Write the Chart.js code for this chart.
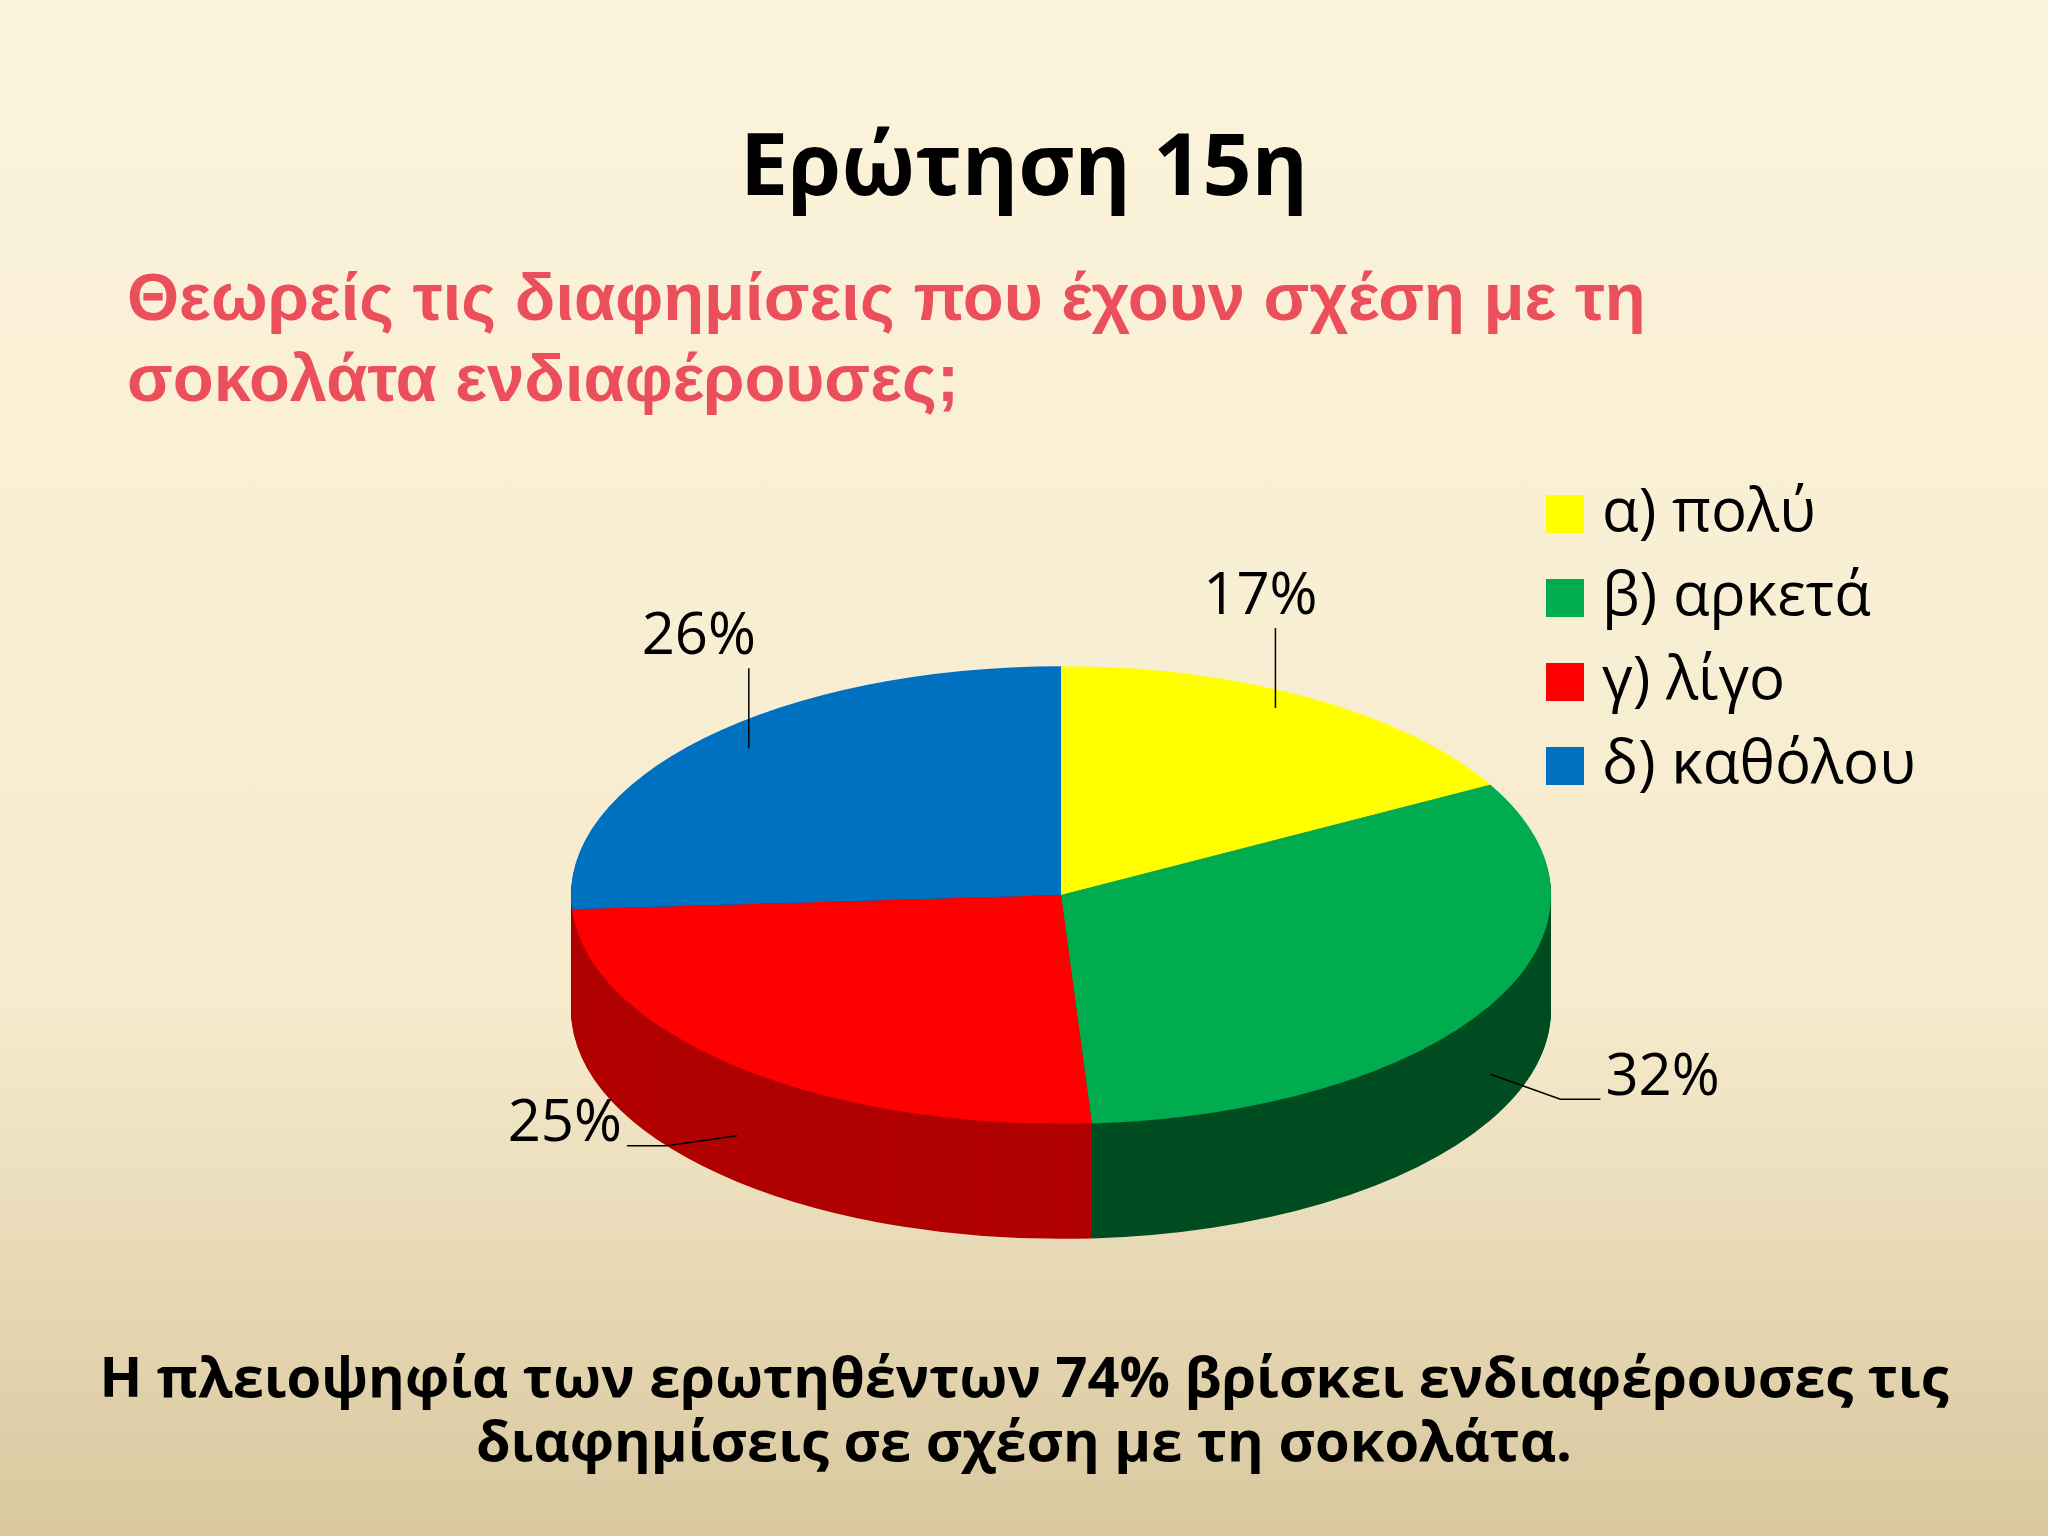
<!DOCTYPE html>
<html>
<head>
<meta charset="utf-8">
<script src="https://cdn.jsdelivr.net/npm/chart.js@4"></script>
<style>
  body { margin:0; width:2048px; height:1536px; overflow:hidden;
    background: linear-gradient(#fbf3dc 0%, #f6ebcd 65%, #d9c89f 100%);
    font-family: "Open Sans", "Liberation Sans", sans-serif; position:relative; }
  #title { position:absolute; top:103px; width:2048px; text-align:center; font-weight:bold; font-size:86px; color:#000; }
  #sub { position:absolute; left:127px; top:256px; font-family:"Liberation Sans", sans-serif; font-weight:bold; font-size:67px; line-height:81px; color:#ec4f5c; }
  #legend { position:absolute; left:1546px; top:466px; font-size:60px; line-height:84px; }
  #legend div span { display:inline-block; width:38px; height:38px; margin-right:18px; vertical-align:-2px; }
  #note { position:absolute; top:1343px; width:2048px; text-align:center; font-weight:bold; font-size:56px; line-height:64px; }
  canvas { position:absolute; left:0; top:0; }
</style>
</head>
<body>
<canvas id="chart-pie" width="2048" height="1536"></canvas>
<div id="title">Ερώτηση 15η</div>
<div id="sub">Θεωρείς τις διαφημίσεις που έχουν σχέση με τη<br>σοκολάτα ενδιαφέρουσες;</div>
<div id="legend"></div>
<div id="note">Η πλειοψηφία των ερωτηθέντων 74% βρίσκει ενδιαφέρουσες τις<br>διαφημίσεις σε σχέση με τη σοκολάτα.</div>
<script>
var labels = ["α) πολύ", "β) αρκετά", "γ) λίγο", "δ) καθόλου"];
var values = [17, 32, 25, 26];
var colors = ["#ffff00", "#00ac4e", "#ff0000", "#0070c0"];
var darkColors = ["#9a9a00", "#004d22", "#b00000", "#003a66"];

var SQUASH = 0.467, DEPTH = 115;

document.getElementById("legend").innerHTML = labels.map(function (l, i) {
    return '<div><span style="background:' + colors[i] + '"></span>' + l + '</div>';
}).join("");

var tiltPlugin = {
    id: "tilt",
    beforeDatasetsDraw: function (chart) {
        var ctx = chart.ctx, arcs = chart.getDatasetMeta(0).data;
        var cx = arcs[0].x, cy = arcs[0].y;
        for (var k = DEPTH; k >= 1; k -= 1) {
            ctx.save();
            ctx.translate(cx, cy + k);
            ctx.scale(1, SQUASH);
            ctx.translate(-cx, -cy);
            arcs.forEach(function (a, i) {
                var keep = a.options.backgroundColor;
                a.options.backgroundColor = darkColors[i];
                a.draw(ctx);
                a.options.backgroundColor = keep;
            });
            ctx.restore();
        }
        ctx.save();
        ctx.translate(cx, cy);
        ctx.scale(1, SQUASH);
        ctx.translate(-cx, -cy);
    },
    afterDatasetsDraw: function (chart) {
        var ctx = chart.ctx;
        ctx.restore();
        var arcs = chart.getDatasetMeta(0).data;
        ctx.save();
        ctx.strokeStyle = "#000";
        ctx.lineWidth = 1.5;
        ctx.fillStyle = "#000";
        ctx.font = '58px "Open Sans", sans-serif';
        arcs.forEach(function (a, i) {
            var mid = (a.startAngle + a.endAngle) / 2;
            var c = Math.cos(mid), s = Math.sin(mid);
            var x = a.x + a.outerRadius * c, y = a.y + a.outerRadius * SQUASH * s;
            var txt = values[i] + "%";
            ctx.beginPath();
            if (s < 0) {
                x += c > 0 ? -35 : 45;
                y += 10;
                ctx.moveTo(x, y); ctx.lineTo(x, y - 80); ctx.stroke();
                ctx.textAlign = "center"; ctx.textBaseline = "bottom";
                ctx.fillText(txt, x + (c > 0 ? -15 : -50), y - 82);
            } else {
                y += DEPTH * 0.6;
                var dir = c > 0 ? 1 : -1;
                var dy = dir > 0 ? 25 : 10;
                var ex = x + dir * 110;
                ctx.moveTo(x, y); ctx.lineTo(ex - dir * 40, y + dy); ctx.lineTo(ex, y + dy); ctx.stroke();
                ctx.textAlign = dir > 0 ? "left" : "right"; ctx.textBaseline = "bottom";
                ctx.fillText(txt, ex + dir * 5, y + dy + 8);
            }
        });
        ctx.restore();
    }
};

new Chart(document.getElementById("chart-pie"), {
    type: "pie",
    data: {
        labels: labels,
        datasets: [{ data: values, backgroundColor: colors, borderWidth: 0 }]
    },
    options: {
        responsive: false,
        animation: false,
        events: [],
        radius: 490,
        layout: { padding: { left: 74, top: 254 } },
        plugins: { legend: { display: false }, tooltip: { enabled: false } }
    },
    plugins: [tiltPlugin]
});
</script>
</body>
</html>
